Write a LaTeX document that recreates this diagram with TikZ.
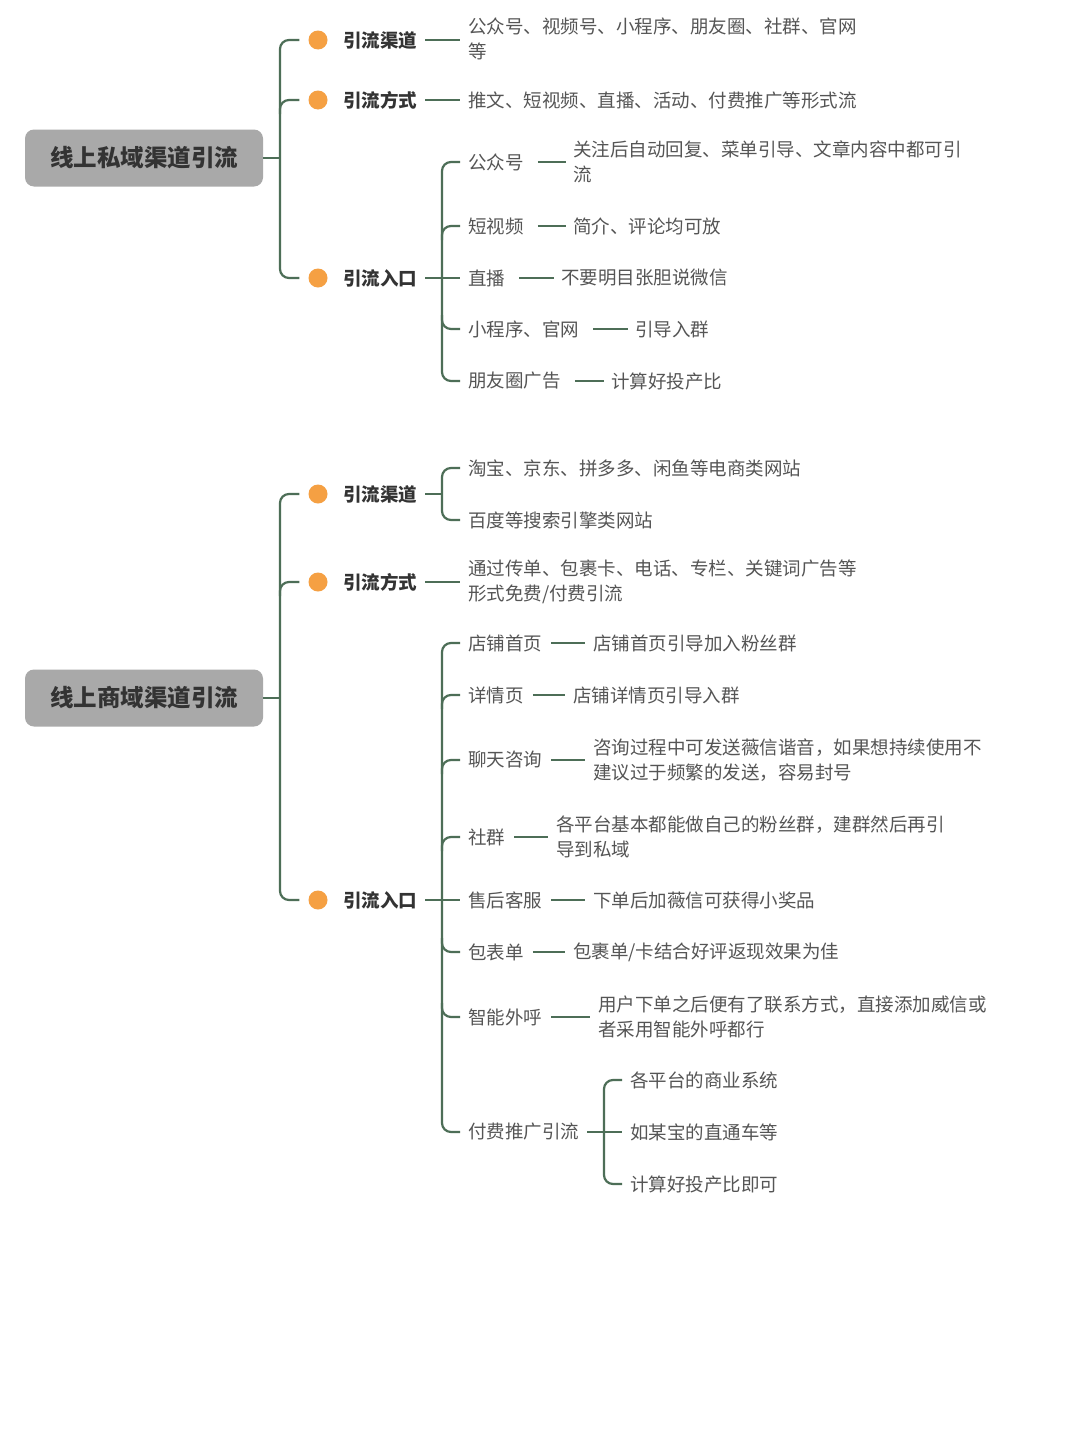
\documentclass[tikz,border=0pt]{standalone}
\usepackage{fontspec}
\setmainfont{Noto Sans CJK SC}
\usetikzlibrary{calc}
\definecolor{cn}{HTML}{4D6E57}
\definecolor{lf}{HTML}{555555}
\definecolor{dk}{HTML}{333333}
\definecolor{rt}{HTML}{A9A9A9}
\definecolor{dt}{HTML}{F5A043}
\tikzset{
 conn/.style={draw=cn,line width=2.2pt,rounded corners=9pt},
 leaf/.style={anchor=west,inner sep=0pt,text=lf,align=left,font=\fontsize{18.5}{25}\selectfont},
 lvl/.style={anchor=west,inner sep=0pt,text=dk,font=\fontsize{18.5}{25}\selectfont\bfseries},
 rootbox/.style={fill=rt,rounded corners=9pt,minimum width=238pt,minimum height=57pt,text=dk,font=\fontsize{23.5}{28}\selectfont\bfseries},
 dot/.style={circle,fill=dt,minimum size=19pt,inner sep=0pt}
}
\begin{document}
\begin{tikzpicture}[x=1pt,y=-1pt]
\useasboundingbox[fill=white] (0,0) rectangle (1080,1440);
% ---------- section 1
\node[rootbox] (r1) at (144,158) {线上私域渠道引流};
\node[dot] (d11) at (318,40) {}; \node[lvl] (a11) at (343,40) {引流渠道};
\node[dot] (d12) at (318,100) {}; \node[lvl] (a12) at (343,100) {引流方式};
\node[dot] (d13) at (318,278) {}; \node[lvl] (a13) at (343,278) {引流入口};
\coordinate (t1) at (280,158);
\draw[conn] (r1.east) -- (t1);
\draw[conn] ([xshift=-9pt]d11.west) -| (t1) |- ([xshift=-9pt]d13.west);
\draw[conn] ([xshift=-9pt]d12.west) -| ([yshift=-14pt]t1|-d12.west);
\node[leaf] (b11) at (468,39) {公众号、视频号、小程序、朋友圈、社群、官网\\等};
\node[leaf] (b12) at (468,100) {推文、短视频、直播、活动、付费推广等形式流};
\draw[conn] ([xshift=8pt]a11.east) -- ([xshift=-8pt]a11.east-|b11.west);
\draw[conn] ([xshift=8pt]a12.east) -- ([xshift=-8pt]b12.west);
\node[leaf] (e1) at (468,162) {公众号};
\node[leaf] (e2) at (468,226) {短视频};
\node[leaf] (e3) at (468,278) {直播};
\node[leaf] (e4) at (468,329) {小程序、官网};
\node[leaf] (e5) at (468,381) {朋友圈广告};
\coordinate (t2) at (442,278);
\draw[conn] ([xshift=8pt]a13.east) -- ([xshift=-8pt]e3.west);
\draw[conn] ([xshift=-8pt]e1.west) -| (t2) |- ([xshift=-8pt]e5.west);
\draw[conn] ([xshift=-8pt]e2.west) -| ([yshift=-14pt]t2|-e2.west);
\draw[conn] ([xshift=-8pt]e4.west) -| ([yshift=14pt]t2|-e4.west);
\node[leaf] (f1) at (573,162) {关注后自动回复、菜单引导、文章内容中都可引\\流};
\node[leaf] (f2) at (573,226) {简介、评论均可放};
\node[leaf] (f3) at (561,278) {不要明目张胆说微信};
\node[leaf] (f4) at (635,329) {引导入群};
\node[leaf] (f5) at (611,381) {计算好投产比};
\foreach \i in {1,...,5}{\draw[conn] ([xshift=14pt]e\i.east) -- ([xshift=-7pt]e\i.east-|f\i.west);}
% ---------- section 2
\node[rootbox] (r2) at (144,698) {线上商域渠道引流};
\node[dot] (d21) at (318,494) {}; \node[lvl] (a21) at (343,494) {引流渠道};
\node[dot] (d22) at (318,582) {}; \node[lvl] (a22) at (343,582) {引流方式};
\node[dot] (d23) at (318,900) {}; \node[lvl] (a23) at (343,900) {引流入口};
\coordinate (t3) at (280,698);
\draw[conn] (r2.east) -- (t3);
\draw[conn] ([xshift=-9pt]d21.west) -| (t3) |- ([xshift=-9pt]d23.west);
\draw[conn] ([xshift=-9pt]d22.west) -| ([yshift=-14pt]t3|-d22.west);
\node[leaf] (g1) at (468,468) {淘宝、京东、拼多多、闲鱼等电商类网站};
\node[leaf] (g2) at (468,520) {百度等搜索引擎类网站};
\coordinate (t4) at (442,494);
\draw[conn] ([xshift=8pt]a21.east) -- (t4);
\draw[conn] ([xshift=-8pt]g1.west) -| (t4) |- ([xshift=-8pt]g2.west);
\node[leaf] (g3) at (468,582) {通过传单、包裹卡、电话、专栏、关键词广告等\\形式免费/付费引流};
\draw[conn] ([xshift=8pt]a22.east) -- ([xshift=-8pt]a22.east-|g3.west);
\node[leaf] (h1) at (468,643) {店铺首页};
\node[leaf] (h2) at (468,695) {详情页};
\node[leaf] (h3) at (468,760) {聊天咨询};
\node[leaf] (h4) at (468,837) {社群};
\node[leaf] (h5) at (468,900) {售后客服};
\node[leaf] (h6) at (468,952) {包表单};
\node[leaf] (h7) at (468,1017) {智能外呼};
\node[leaf] (h8) at (468,1132) {付费推广引流};
\coordinate (t5) at (442,900);
\draw[conn] ([xshift=8pt]a23.east) -- ([xshift=-8pt]h5.west);
\draw[conn] ([xshift=-8pt]h1.west) -| (t5) |- ([xshift=-8pt]h8.west);
\foreach \i in {2,3,4}{\draw[conn] ([xshift=-8pt]h\i.west) -| ([yshift=-14pt]t5|-h\i.west);}
\foreach \i in {6,7}{\draw[conn] ([xshift=-8pt]h\i.west) -| ([yshift=14pt]t5|-h\i.west);}
\node[leaf] (k1) at (593,643) {店铺首页引导加入粉丝群};
\node[leaf] (k2) at (573,695) {店铺详情页引导入群};
\node[leaf] (k3) at (593,760) {咨询过程中可发送薇信谐音，如果想持续使用不\\建议过于频繁的发送，容易封号};
\node[leaf] (k4) at (556,837) {各平台基本都能做自己的粉丝群，建群然后再引\\导到私域};
\node[leaf] (k5) at (593,900) {下单后加薇信可获得小奖品};
\node[leaf] (k6) at (573,952) {包裹单/卡结合好评返现效果为佳};
\node[leaf] (k7) at (598,1017) {用户下单之后便有了联系方式，直接添加威信或\\者采用智能外呼都行};
\foreach \i in {1,...,7}{\draw[conn] ([xshift=9pt]h\i.east) -- ([xshift=-8pt]h\i.east-|k\i.west);}
\node[leaf] (m1) at (630,1080) {各平台的商业系统};
\node[leaf] (m2) at (630,1132) {如某宝的直通车等};
\node[leaf] (m3) at (630,1184) {计算好投产比即可};
\coordinate (t6) at (604,1132);
\draw[conn] ([xshift=8pt]h8.east) -- ([xshift=-8pt]m2.west);
\draw[conn] ([xshift=-8pt]m1.west) -| (t6) |- ([xshift=-8pt]m3.west);
\end{tikzpicture}
\end{document}
